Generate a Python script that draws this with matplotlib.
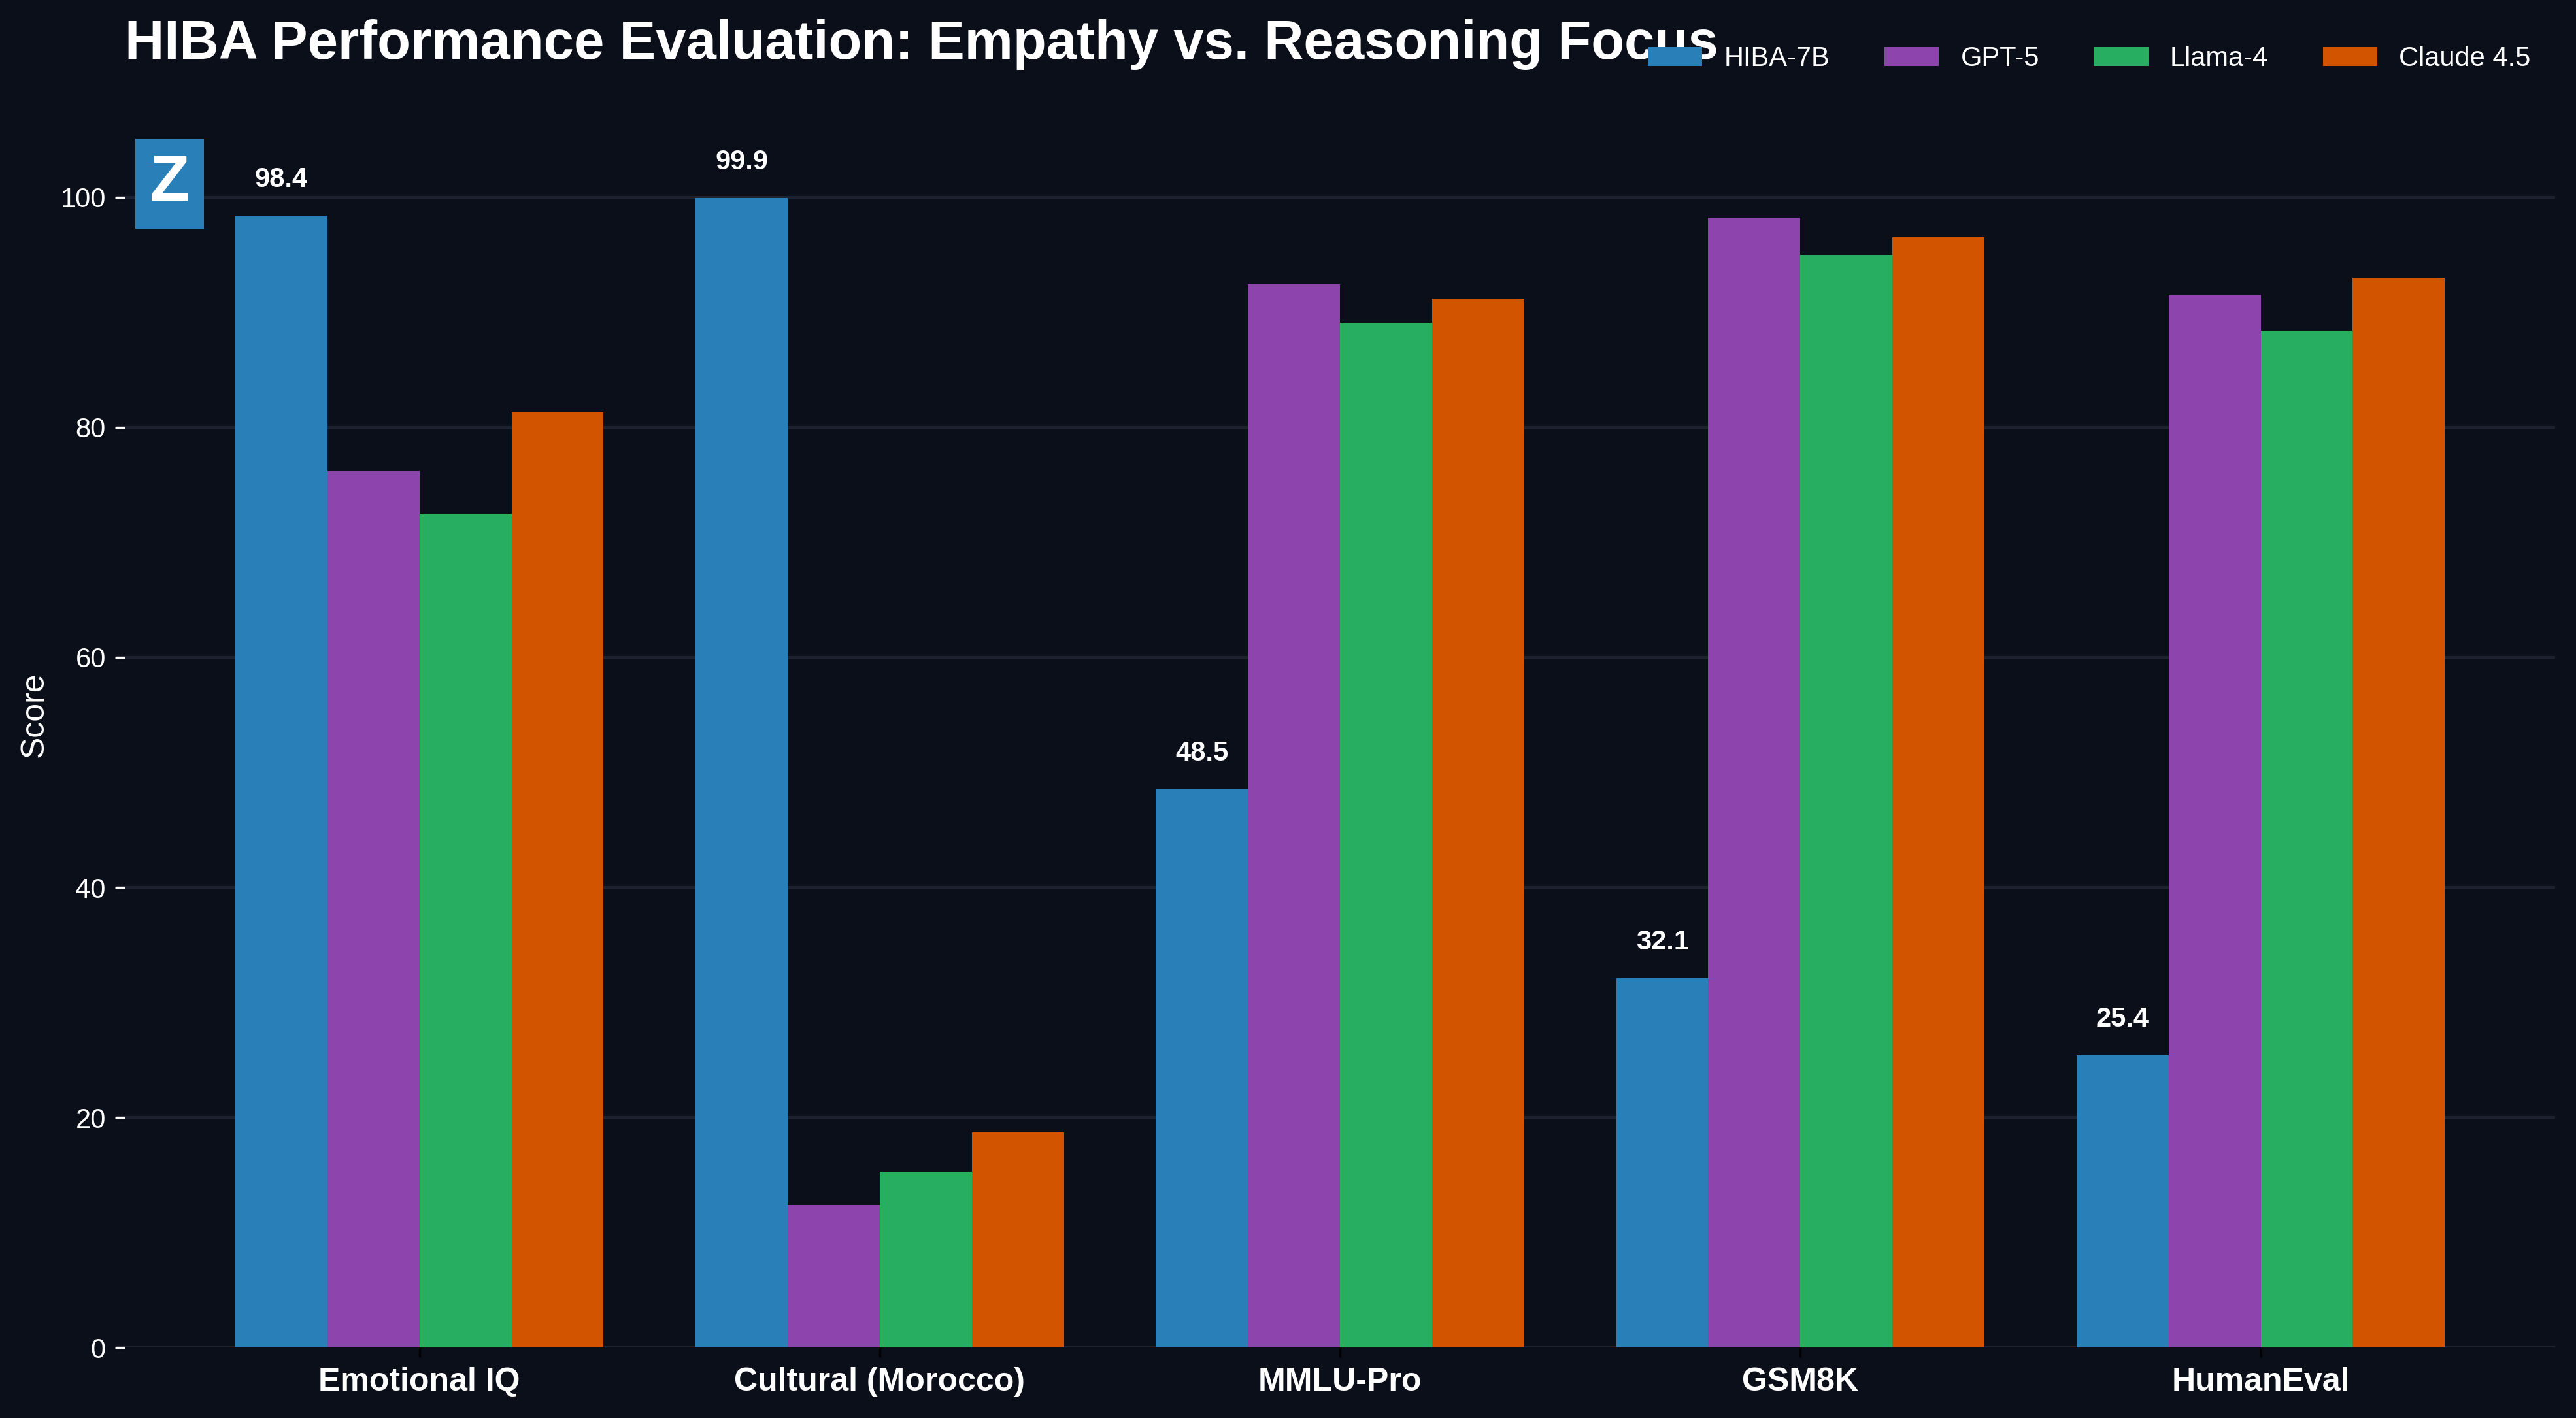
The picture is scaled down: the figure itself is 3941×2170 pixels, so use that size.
import numpy as np
import matplotlib
matplotlib.use("Agg")
import matplotlib.pyplot as plt

plt.rcParams['font.family'] = ['Liberation Sans', 'DejaVu Sans']

benchmarks = ["Emotional IQ", "Cultural (Morocco)", "MMLU-Pro", "GSM8K", "HumanEval"]
models = ["HIBA-7B", "GPT-5", "Llama-4", "Claude 4.5"]
hiba = [98.4, 99.9, 48.5, 32.1, 25.4]
gpt5 = [76.2, 12.4, 92.4, 98.2, 91.5]
llama4 = [72.5, 15.3, 89.1, 95.0, 88.4]
claude45 = [81.3, 18.7, 91.2, 96.5, 93.0]
colors = ["#2980b9", "#8e44ad", "#27ae60", "#d35400"]

bg = "#0b0f19"
grid_color = "#1f2330"

fig = plt.figure(figsize=(3941 / 300, 2170 / 300), dpi=300, facecolor=bg)
ax = fig.add_axes([0.04847, 0.04954, 0.94346, 0.89263])
ax.set_facecolor(bg)

x = np.arange(len(benchmarks))
width = 0.2
series = [hiba, gpt5, llama4, claude45]
for i, (vals, name, col) in enumerate(zip(series, models, colors)):
    bars = ax.bar(x + (i - 1.5) * width, vals, width, label=name, color=col, zorder=3)
    if i == 0:
        for b, v in zip(bars, vals):
            ax.text(b.get_x() + b.get_width() / 2, v + 2, f"{v:.1f}",
                    ha='center', va='bottom', color='white',
                    fontsize=10, fontweight='bold')

ax.set_ylim(0, 110)
ax.set_yticks([0, 20, 40, 60, 80, 100])
ax.set_xticks(x)
ax.set_xticklabels(benchmarks, fontsize=12, fontweight='bold', color='white')
ax.tick_params(axis='y', colors='white', labelsize=10)
ax.tick_params(axis='x', color='black', length=3.5)
ax.set_ylabel("Score", fontsize=12, color='white')

ax.grid(axis='y', color=grid_color, linewidth=1.0, zorder=0)
ax.set_axisbelow(True)
for s in ax.spines.values():
    s.set_visible(False)

ax.set_title("HIBA Performance Evaluation: Empathy vs. Reasoning Focus",
             loc='left', fontsize=20, fontweight='bold', color='white', pad=8.5)

leg = ax.legend(loc='upper right', bbox_to_anchor=(1, 1.048), ncol=4,
                frameon=False, fontsize=10)
for t in leg.get_texts():
    t.set_color('white')

# logo badge
ax.text(0.0183, 0.9197, "Z", transform=ax.transAxes, ha='center', va='center',
        fontsize=24, fontweight='bold', color='white', zorder=5,
        bbox=dict(boxstyle='square,pad=0.22', facecolor=colors[0], edgecolor='none'))

fig.savefig("out.png", dpi=300, facecolor=bg)
